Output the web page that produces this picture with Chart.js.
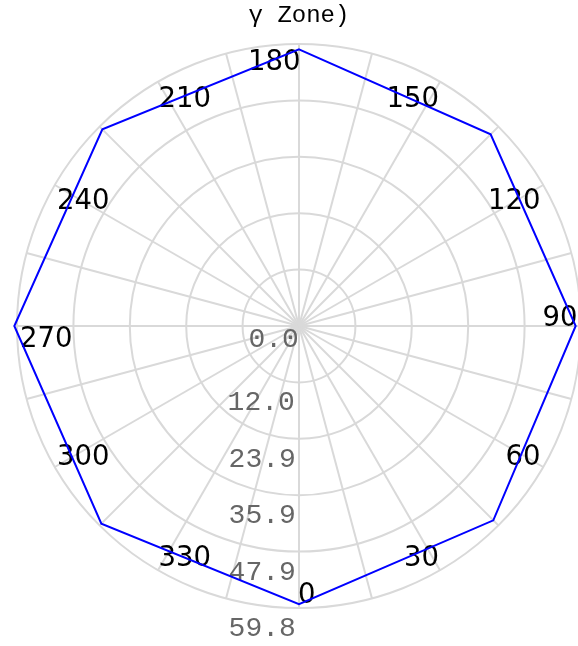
<!DOCTYPE html>
<html>
<head>
<meta charset="utf-8">
<script src="https://cdn.jsdelivr.net/npm/chart.js@4/dist/chart.umd.min.js"></script>
<style>
  html, body { margin: 0; padding: 0; background: #fff; overflow: hidden; }
  #wrap { width: 578px; height: 646px; overflow: hidden; }
</style>
</head>
<body>
<div id="wrap"><canvas id="polarChart" width="581" height="646"></canvas></div>
<script>
// angle of each spoke in degrees (clockwise from the top, as chart.js draws them)
const thetaDeg = [180, 165, 150, 135, 120, 105, 90, 75, 60, 45, 30, 15,
                  0, 345, 330, 315, 300, 285, 270, 255, 240, 225, 210, 195];
// only every 45 deg has a value
const radius = [58.7, null, null, 57.5, null, null, 58.7, null, null, 58.3, null, null,
                59.0, null, null, 59.3, null, null, 60.4, null, null, 59.0, null, null];
const rTickValues = [0, 11.97, 23.93, 35.9, 47.86, 59.83];
const rTickLabels = ['0.0', '12.0', '23.9', '35.9', '47.9', '59.8'];
const titleText = 'γ Zone)';

const gridColor = '#d9d9d9';

// place text so that the given ink corner sits on (x, y)
function drawInk(ctx, str, x, y, alignX, alignY) {
    const m = ctx.measureText(str);
    const dx = alignX === 'right' ? -m.actualBoundingBoxRight : m.actualBoundingBoxLeft;
    const dy = alignY === 'top' ? m.actualBoundingBoxAscent : -m.actualBoundingBoxDescent;
    ctx.fillText(str, x + dx, y + dy);
}

// angular labels sit inside the outer ring with one corner on it,
// radial tick labels hang below each ring
const labelPlugin = {
    id: 'polarLabels',
    beforeDatasetsDraw(chart) {
        const s = chart.scales.r;
        const ctx = chart.ctx;
        ctx.save();
        ctx.textAlign = 'left';
        ctx.textBaseline = 'alphabetic';
        ctx.font = '27.5px "DejaVu Sans"';
        ctx.fillStyle = '#000';
        const d = s.drawingArea - 5;
        thetaDeg.forEach((deg, i) => {
            if (deg % 30 !== 0) return;
            const a = s.getIndexAngle(i) - Math.PI / 2;
            const x = s.xCenter + Math.cos(a) * d;
            const y = s.yCenter + Math.sin(a) * d;
            const q = deg === 0 ? 360 : deg;
            const ax = q <= 180 ? 'right' : 'left';
            const ay = (q > 90 && q <= 270) ? 'top' : 'bottom';
            drawInk(ctx, String(deg), x, y, ax, ay);
        });
        ctx.font = '28px "Liberation Mono"';
        ctx.fillStyle = '#666';
        rTickValues.forEach((v, k) => {
            const off = s.getDistanceFromCenterForValue(v);
            const pad = off > 0 ? 10 : 3;
            const xr = off > 0 ? s.xCenter - 5 : s.xCenter - 1;
            drawInk(ctx, rTickLabels[k], xr, s.yCenter + off + pad, 'right', 'top');
        });
        ctx.restore();
    }
};

const ctx = document.getElementById('polarChart');
new Chart(ctx, {
    type: 'radar',
    data: {
        labels: thetaDeg.map(String),
        datasets: [{
            data: radius,
            borderColor: '#0000ff',
            borderWidth: 2,
            fill: false,
            pointRadius: 0,
            pointHoverRadius: 0,
            spanGaps: true,
            tension: 0,
            clip: false
        }]
    },
    options: {
        responsive: false,
        animation: false,
        layout: { padding: { left: 17, right: 0, top: 0, bottom: 38 } },
        scales: {
            r: {
                min: 0,
                max: rTickValues[rTickValues.length - 1],
                afterBuildTicks: s => { s.ticks = rTickValues.map(v => ({ value: v })); },
                ticks: { display: false },
                pointLabels: { display: false },
                grid: { circular: true, color: gridColor, lineWidth: 2 },
                angleLines: { display: true, color: gridColor, lineWidth: 2 }
            }
        },
        plugins: {
            legend: { display: false },
            tooltip: { enabled: false },
            title: {
                display: true,
                text: titleText,
                color: '#000',
                font: { family: 'Liberation Mono', size: 24, weight: 'normal', lineHeight: 1.0 },
                padding: { top: 4, bottom: 16 }
            }
        }
    },
    plugins: [labelPlugin]
});
</script>
</body>
</html>
